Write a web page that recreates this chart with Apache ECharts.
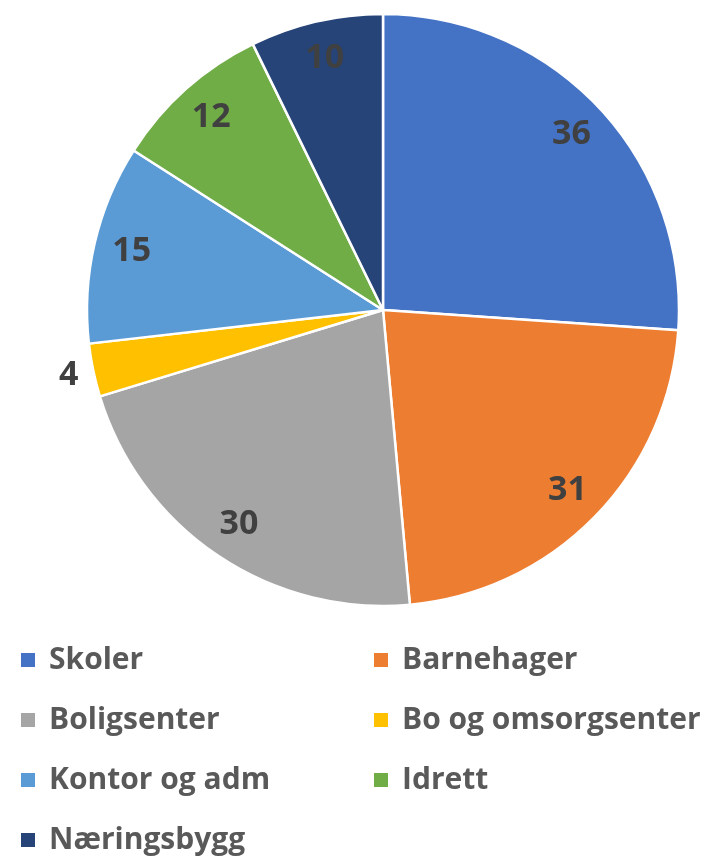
<!DOCTYPE html>
<html><head><meta charset="utf-8">
<script src="https://cdn.jsdelivr.net/npm/echarts@6/dist/echarts.min.js"></script>
<style>html,body{margin:0;padding:0;background:#fff}#c{width:716px;height:859px}</style>
</head><body><div id="c"></div>
<script>
const categories = ['Skoler','Barnehager','Boligsenter','Bo og omsorgsenter','Kontor og adm','Idrett','Næringsbygg'];
const values = [36,31,30,4,15,12,10];
const colors = ['#4472C4','#ED7D31','#A5A5A5','#FFC000','#5B9BD5','#70AD47','#264478'];
const outsideLabel = 'Bo og omsorgsenter';

const FONT = '"Open Sans"';
const center = [383, 310];
const R = 296;
const data = categories.map((n,i)=>({name:n, value:values[i], itemStyle:{color:colors[i]}}));
const labelStyle = {color:'#404040', fontSize:34, fontWeight:'bold', fontFamily:FONT, padding:[9,0,0,0]};

const legendPos = [[19,645],[372,645],[19,705],[372,705],[19,765],[372,765],[19,825]];
const legends = categories.map((n,i)=>({
  data:[n], left:legendPos[i][0], top:legendPos[i][1], selectedMode:false,
  icon:'rect', itemWidth:16, itemHeight:16, itemGap:0, padding:0,
  textStyle:{color:'#595959', fontSize:30, lineHeight:30, fontWeight:'bold', fontFamily:FONT, padding:[0,0,0,8]}
}));

const chart = echarts.init(document.getElementById('c'));
chart.setOption({
  animation:false,
  legend: legends,
  series:[
    {type:'pie', center:center, radius:[0,R], startAngle:90, clockwise:true,
     data:data, label:{show:false}, labelLine:{show:false},
     itemStyle:{borderColor:'#fff', borderWidth:2.5}, emphasis:{disabled:true}},
    {type:'pie', center:center, radius:[224,286], startAngle:90, clockwise:true, silent:true,
     data:categories.map((n,i)=>({name:n, value:values[i], itemStyle:{color:'rgba(0,0,0,0)'},
       label:{show:n!==outsideLabel}})),
     label:Object.assign({show:true, position:'inside', formatter:'{c}'}, labelStyle),
     labelLine:{show:false}, emphasis:{disabled:true}, legendHoverLink:false},
    {type:'pie', center:center, radius:[306,330], startAngle:90, clockwise:true, silent:true,
     data:categories.map((n,i)=>({name:n, value:values[i], itemStyle:{color:'rgba(0,0,0,0)'},
       label:{show:n===outsideLabel}})),
     label:Object.assign({show:true, position:'inside', formatter:'{c}'}, labelStyle),
     labelLine:{show:false}, emphasis:{disabled:true}, legendHoverLink:false}
  ]
});
</script></body></html>
